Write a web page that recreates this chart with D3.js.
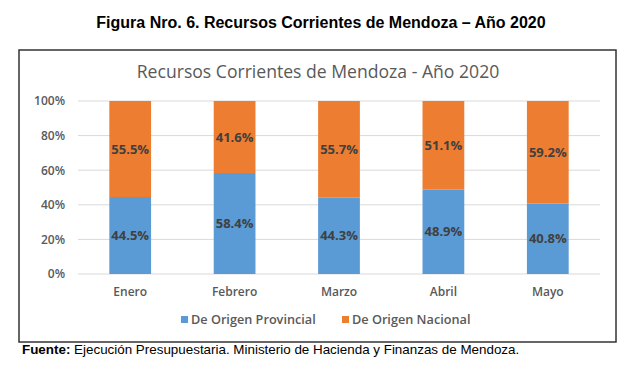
<!DOCTYPE html>
<html>
<head>
<meta charset="utf-8">
<script src="https://cdn.jsdelivr.net/npm/d3@7"></script>
<style>
  body { margin: 0; background: #fff; }
</style>
</head>
<body>
<svg id="chart" width="643" height="386"></svg>
<script>
// data
var meses = ["Enero", "Febrero", "Marzo", "Abril", "Mayo"];
var provincial = [44.5, 58.4, 44.3, 48.9, 40.8];
var nacional = [55.5, 41.6, 55.7, 51.1, 59.2];
var yTicks = [0, 20, 40, 60, 80, 100];
var serieNombres = ["De Origen Provincial", "De Origen Nacional"];
var colores = ["#5b9bd5", "#ed7d31"];

var svg = d3.select("#chart");
var font = "'Open Sans', sans-serif";

// outer figure title
svg.append("text")
    .attr("x", 321).attr("y", 28)
    .attr("text-anchor", "middle")
    .style("font-family", "'Liberation Sans', Arial, sans-serif")
    .style("font-weight", "bold")
    .style("font-size", "16px")
    .text("Figura Nro. 6. Recursos Corrientes de Mendoza \u2013 A\u00f1o 2020");

// chart frame
svg.append("rect")
    .attr("x", 19).attr("y", 50)
    .attr("width", 597).attr("height", 292)
    .attr("fill", "#fff")
    .attr("stroke", "#333")
    .attr("stroke-width", 1.5);

svg.append("text")
    .attr("x", 318).attr("y", 78)
    .attr("text-anchor", "middle")
    .style("font-family", font)
    .style("font-size", "17.6px")
    .attr("fill", "#595959")
    .text("Recursos Corrientes de Mendoza - A\u00f1o 2020");

var x = d3.scaleBand().domain(meses).range([78, 600])
    .paddingInner(0.6).paddingOuter(0.3);
var y = d3.scaleLinear().domain([0, 100]).range([274, 101]);

// gridlines
svg.append("g")
    .selectAll("line")
    .data(yTicks)
    .enter()
    .append("line")
    .attr("x1", 78).attr("x2", 600)
    .attr("y1", function (d) { return y(d); })
    .attr("y2", function (d) { return y(d); })
    .attr("stroke", "#d9d9d9")
    .attr("stroke-width", 1);

// y axis labels
var yAxis = d3.axisLeft(y)
    .tickValues(yTicks)
    .tickSize(0)
    .tickPadding(13)
    .tickFormat(function (d) { return d + "%"; });
var gy = svg.append("g").attr("transform", "translate(78,0)").call(yAxis);
gy.select(".domain").remove();
gy.selectAll("text")
    .style("font-family", font)
    .style("font-size", "12px")
    .style("font-weight", "600")
    .attr("fill", "#595959");

// x axis labels
var xAxis = d3.axisBottom(x).tickSize(0).tickPadding(13);
var gx = svg.append("g").attr("transform", "translate(0,274)").call(xAxis);
gx.select(".domain").remove();
gx.selectAll("text")
    .style("font-family", font)
    .style("font-size", "12px")
    .style("font-weight", "600")
    .attr("fill", "#595959");

// stacked bars
var rows = meses.map(function (m, i) {
    return { mes: m, prov: provincial[i], nac: nacional[i] };
});
var stack = d3.stack().keys(["prov", "nac"])(rows);

var capas = svg.selectAll("g.serie")
    .data(stack)
    .enter()
    .append("g")
    .attr("class", "serie")
    .attr("fill", function (d, i) { return colores[i]; });

capas.selectAll("rect")
    .data(function (d) { return d; })
    .enter()
    .append("rect")
    .attr("x", function (d) { return x(d.data.mes); })
    .attr("width", x.bandwidth())
    .attr("y", function (d) { return y(d[1]); })
    .attr("height", function (d) { return y(d[0]) - y(d[1]); });

capas.selectAll("text")
    .data(function (d) { return d; })
    .enter()
    .append("text")
    .attr("x", function (d) { return x(d.data.mes) + x.bandwidth() / 2; })
    .attr("y", function (d) { return y((d[0] + d[1]) / 2); })
    .attr("dy", "0.35em")
    .attr("text-anchor", "middle")
    .attr("fill", "#404040")
    .style("font-family", font)
    .style("font-size", "13px")
    .style("font-weight", "bold")
    .text(function (d) { return (d[1] - d[0]).toFixed(1) + "%"; });

// legend
var legendX = [181, 342];
var leg = svg.selectAll("g.leg")
    .data(serieNombres)
    .enter()
    .append("g")
    .attr("class", "leg")
    .attr("transform", function (d, i) { return "translate(" + legendX[i] + ",320)"; });
leg.append("rect")
    .attr("x", 0).attr("y", -4)
    .attr("width", 7).attr("height", 7)
    .attr("fill", function (d, i) { return colores[i]; });
leg.append("text")
    .attr("x", 10).attr("y", 0)
    .attr("dy", "0.35em")
    .style("font-family", font)
    .style("font-size", "12.7px")
    .style("font-weight", "600")
    .attr("fill", "#595959")
    .text(function (d) { return d; });

// source note
var fuente = svg.append("text")
    .attr("x", 22).attr("y", 354)
    .style("font-family", "'Liberation Sans', Arial, sans-serif")
    .style("font-size", "13.4px");
fuente.append("tspan").style("font-weight", "bold").text("Fuente:");
fuente.append("tspan").text(" Ejecuci\u00f3n Presupuestaria. Ministerio de Hacienda y Finanzas de Mendoza.");
</script>
</body>
</html>
